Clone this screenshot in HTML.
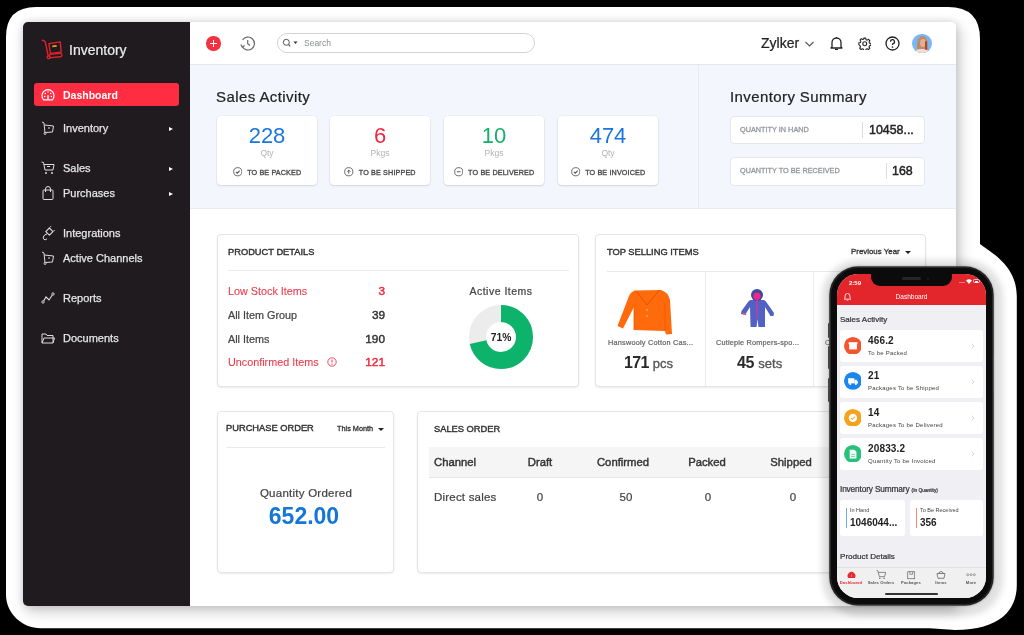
<!DOCTYPE html>
<html><head><meta charset="utf-8">
<style>
*{box-sizing:border-box;margin:0;padding:0}
html,body{width:1024px;height:635px;overflow:hidden;background:#000}
body{position:relative;font-family:"Liberation Sans",sans-serif;color:#333;-webkit-font-smoothing:antialiased}
.t,.lbl{will-change:transform}
.m{-webkit-text-stroke:.22px currentColor}
.m2{-webkit-text-stroke:.1px currentColor}
.a{position:absolute}
.t{position:absolute;white-space:nowrap;line-height:1}
#outline{position:absolute;left:0;top:0}
#app{position:absolute;left:23px;top:22px;width:933px;height:584px;background:#fff;border-radius:5px;overflow:hidden;box-shadow:0 0 7px 1px rgba(0,0,0,.09),3px 5px 14px 1px rgba(0,0,0,.2)}
#side{position:absolute;left:0;top:0;width:167px;height:584px;background:#1f1b1f}
.si{position:absolute;left:0;width:167px;height:20px;color:#e6e6e6;font-size:11px}
.si .lbl{position:absolute;left:40px;top:5.3px;line-height:1;-webkit-text-stroke:.25px currentColor}
.si .arr{position:absolute;left:145.5px;top:8.5px;width:0;height:0;border-left:4.2px solid #fff;border-top:2.6px solid transparent;border-bottom:2.6px solid transparent}
.si svg{position:absolute;left:18px;top:3px}
</style></head><body>
<svg id="outline" width="1024" height="635">
<path d="M36 7 H948 Q980 7 980 39 V244 C988 251 1016.8 264 1016.8 296 V585 C1016.8 610 1000 630 955 630 L930 628.3 H41 C22 628.3 6 613 6 595 V37 Q6 7 36 7 Z" fill="#fff"/>
</svg>
<div id="app">
  <div id="side">
    <!-- logo -->
    <svg class="a" style="left:15px;top:14px" width="28" height="26" viewBox="0 0 28 26">
      <path d="M4.3 4.3 Q6.6 4.4 7.3 6.2 L10.2 19.8" fill="none" stroke="#e4202a" stroke-width="1.4" stroke-linecap="round"/>
      <circle cx="10.6" cy="21.3" r="1.5" fill="none" stroke="#e4202a" stroke-width="1.3"/>
      <path d="M11 7.6 L22.2 5.9 L23.2 16.1 L12.3 17.4 Z" fill="none" stroke="#e4202a" stroke-width="1.4" stroke-linejoin="round"/>
      <rect x="11.2" y="17.8" width="12.8" height="3.4" rx="1.7" fill="none" stroke="#e4202a" stroke-width="1.3" transform="rotate(-6 18 19.5)"/>
      <rect x="14.3" y="9.2" width="4.4" height="1.7" fill="#eea21a" transform="rotate(-6 16.5 10)"/>
    </svg>
    <div class="t m" style="left:46px;top:21px;font-size:14px;color:#ececec">Inventory</div>
    <div class="a" style="left:11px;top:61px;width:145px;height:23px;background:#fe2d42;border-radius:3px"></div>
    <svg class="a" style="left:18px;top:66.5px" width="14" height="12" viewBox="0 0 14 12"><path d="M2.6 10.8 A6 6 0 1 1 11.4 10.8 Z" fill="none" stroke="#fff" stroke-width="1.2" stroke-linejoin="round"/><path d="M7 10.5 V6.2" stroke="#fff" stroke-width="1.3"/><circle cx="7" cy="3.1" r=".75" fill="#fff"/><circle cx="4.3" cy="4.6" r=".75" fill="#fff"/><circle cx="9.7" cy="4.6" r=".75" fill="#fff"/><circle cx="3.6" cy="7.4" r=".75" fill="#fff"/><circle cx="10.4" cy="7.4" r=".75" fill="#fff"/></svg>
    <div class="t" style="left:40px;top:68px;font-size:10.5px;font-weight:bold;color:#fff">Dashboard</div>

    <div class="si" style="top:96px"><svg width="14" height="14" viewBox="0 0 14 14"><path d="M1 1 L3 2 L4 12" fill="none" stroke="#ddd" stroke-width="1"/><path d="M3.5 4 L12.5 5 L11.5 11 L4.5 11.5" fill="none" stroke="#ddd" stroke-width="1"/><circle cx="4" cy="12.5" r="1" fill="none" stroke="#ddd" stroke-width=".9"/><path d="M7 7 L9 7" stroke="#ddd"/></svg><div class="lbl">Inventory</div><div class="arr"></div></div>
    <div class="si" style="top:136px"><svg width="14" height="14" viewBox="0 0 14 14"><path d="M.5 1 L2.5 1.5 L4 9 L12 9 L13 3.5 L3 3.5" fill="none" stroke="#ddd" stroke-width="1"/><path d="M6 5.5 L9 5.5" stroke="#ddd"/><circle cx="5" cy="12" r="1" fill="#ddd"/><circle cx="11" cy="12" r="1" fill="#ddd"/></svg><div class="lbl">Sales</div><div class="arr"></div></div>
    <div class="si" style="top:161px"><svg width="14" height="14" viewBox="0 0 14 14"><rect x="2" y="4" width="10" height="9.5" rx=".8" fill="none" stroke="#ddd" stroke-width="1"/><path d="M4.5 6 V3 A2.5 2.5 0 0 1 9.5 3 V6" fill="none" stroke="#ddd" stroke-width="1"/></svg><div class="lbl">Purchases</div><div class="arr"></div></div>
    <div class="si" style="top:201px"><svg width="14" height="16" viewBox="0 0 14 16"><path d="M4.8 5.6 L8.4 2 L12 5.6 L8.4 9.2 Z" fill="none" stroke="#ddd" stroke-width="1.1" stroke-linejoin="round"/><path d="M8.6 1.6 L10 .2 M12.3 5.4 L13.7 4" stroke="#ddd" stroke-width="1"/><path d="M6.2 7.8 Q3 8.6 2.3 11 Q1.8 13.3 4 13.8 Q5.8 14 5.6 12.6" fill="none" stroke="#ddd" stroke-width="1"/></svg><div class="lbl">Integrations</div></div>
    <div class="si" style="top:226px"><svg width="14" height="14" viewBox="0 0 14 14"><path d="M1 1 L3 2 L4 12" fill="none" stroke="#ddd" stroke-width="1"/><path d="M3.5 4 L12.5 5 L11.5 11 L4.5 11.5" fill="none" stroke="#ddd" stroke-width="1"/><circle cx="4" cy="12.5" r="1" fill="none" stroke="#ddd" stroke-width=".9"/><path d="M7 7 L9 7" stroke="#ddd"/></svg><div class="lbl">Active Channels</div></div>
    <div class="si" style="top:266px"><svg width="14" height="14" viewBox="0 0 14 14"><path d="M2 11 L5 6 L8 9 L12 3" fill="none" stroke="#ddd" stroke-width="1.1"/><circle cx="2" cy="11" r="1.2" fill="#1f1b1f" stroke="#ddd" stroke-width=".9"/><circle cx="12" cy="3" r="1.2" fill="#1f1b1f" stroke="#ddd" stroke-width=".9"/></svg><div class="lbl">Reports</div></div>
    <div class="si" style="top:306px"><svg width="14" height="14" viewBox="0 0 14 14"><path d="M1 3 H5 L6 4.5 H12 V12 H1 Z" fill="none" stroke="#ddd" stroke-width="1"/><path d="M1 12 L3 7 H13.5 L12 12" fill="none" stroke="#ddd" stroke-width="1"/></svg><div class="lbl">Documents</div></div>
  </div>

  <!-- header: app coords = page - (23,22) -->
  <div class="a" style="left:167px;top:0;width:766px;height:43px;background:#fff;border-bottom:1px solid #e4e6ea"></div>
  <div class="a" style="left:183px;top:14px;width:14.5px;height:14.5px;border-radius:50%;background:#f5313f"></div>
  <div class="a" style="left:186.8px;top:20.75px;width:7px;height:1.1px;background:#fff"></div>
  <div class="a" style="left:189.75px;top:17.8px;width:1.1px;height:7px;background:#fff"></div>
  <svg class="a" style="left:216px;top:13px" width="17" height="17" viewBox="0 0 17 17"><path d="M3.2 11.5 A6.5 6.5 0 1 0 3.5 5" fill="none" stroke="#666" stroke-width="1.15"/><path d="M1.8 9.5 L3.3 12.2 L5.6 10.5" fill="none" stroke="#666" stroke-width="1.15"/><path d="M8.7 5 V8.7 L11 10.5" fill="none" stroke="#666" stroke-width="1.15"/></svg>
  <div class="a" style="left:254px;top:11px;width:258px;height:20px;border:1px solid #cfd2d6;border-radius:10px;background:#fff"></div>
  <svg class="a" style="left:259px;top:16px" width="20" height="10" viewBox="0 0 20 10"><circle cx="4.3" cy="4.3" r="3" fill="none" stroke="#555" stroke-width="1"/><path d="M6.5 6.5 L8.3 8.3" stroke="#555" stroke-width="1.1"/><path d="M11.5 3.5 L15.5 3.5 L13.5 6 Z" fill="#333"/></svg>
  <div class="t" style="left:281px;top:17px;font-size:8.5px;color:#8a8d93">Search</div>
  <div class="t m" style="left:738px;top:14px;font-size:14px;color:#222">Zylker</div>
  <svg class="a" style="left:781px;top:18px" width="11" height="8" viewBox="0 0 11 8"><path d="M1.5 2 L5.5 6 L9.5 2" fill="none" stroke="#555" stroke-width="1.1"/></svg>
  <svg class="a" style="left:806px;top:14px" width="15" height="15" viewBox="0 0 15 15"><path d="M3 11 V6.5 A4.5 4.5 0 0 1 12 6.5 V11 L13 12 H2 Z" fill="none" stroke="#222" stroke-width="1.3" stroke-linejoin="round"/><path d="M6 13.3 H9" stroke="#222" stroke-width="1.3"/><path d="M7.5 1 V2" stroke="#222" stroke-width="1.3"/></svg>
  <svg class="a" style="left:834.5px;top:14.5px" width="13.5" height="13.5" viewBox="0 0 24 24"><path d="M12 8.5a3.5 3.5 0 1 0 0 7 3.5 3.5 0 0 0 0-7z" fill="none" stroke="#222" stroke-width="2"/><path d="M10.3 2h3.4l.6 2.7 2 .9 2.4-1.5 2.4 2.4-1.5 2.4.9 2 2.7.6v3.4l-2.7.6-.9 2 1.5 2.4-2.4 2.4-2.4-1.5-2 .9-.6 2.7h-3.4l-.6-2.7-2-.9-2.4 1.5-2.4-2.4 1.5-2.4-.9-2L1.5 13.7v-3.4l2.7-.6.9-2-1.5-2.4 2.4-2.4 2.4 1.5 2-.9z" fill="none" stroke="#222" stroke-width="1.9" stroke-linejoin="round"/></svg>
  <svg class="a" style="left:862px;top:14px" width="15" height="15" viewBox="0 0 15 15"><circle cx="7.5" cy="7.5" r="6.5" fill="none" stroke="#222" stroke-width="1.3"/><path d="M5.5 5.8 A2 2 0 1 1 8 7.6 C7.5 7.8 7.5 8.2 7.5 9" fill="none" stroke="#222" stroke-width="1.3"/><circle cx="7.5" cy="11" r=".85" fill="#222"/></svg>
  <div class="a" style="left:889px;top:11.5px;width:19.5px;height:19.5px;border-radius:50%;background:#78b6f4;overflow:hidden">
    <div class="a" style="left:5px;top:2.5px;width:11px;height:18px;border-radius:48% 48% 30% 30%;background:#c08a68"></div>
    <div class="a" style="left:7.5px;top:5.5px;width:6px;height:8px;border-radius:50%;background:#e2b091"></div>
    <div class="a" style="left:4px;top:15px;width:12px;height:6px;border-radius:40% 40% 0 0;background:#f2dcd6"></div>
    <div class="a" style="left:12.5px;top:7px;width:2px;height:9px;border-radius:1px;background:#9a4a4a"></div>
  </div>

  <!-- sales activity band -->
  <div class="a" style="left:167px;top:43px;width:766px;height:144px;background:#f3f6fc;border-bottom:1px solid #e8ebf0"></div>
  <div class="a" style="left:675px;top:43px;width:1px;height:144px;background:#e8ebf2"></div>
  <div class="t m" style="left:193px;top:67px;font-size:15px;letter-spacing:.42px;color:#222">Sales Activity</div>
  <div class="a" style="left:194px;top:94px;width:100px;height:69px;background:#fff;border-radius:4px;box-shadow:0 1px 2px rgba(0,0,0,.12),0 0 0 .5px rgba(0,0,0,.05)">
    <div class="t" style="left:0;width:100px;text-align:center;top:9px;font-size:22px;color:#1a76de">228</div>
    <div class="t" style="left:0;width:100px;text-align:center;top:32.5px;font-size:8.5px;color:#b0b3b8">Qty</div>
    <div class="t lb" style="left:0;width:100px;text-align:center;top:51px;font-size:7.2px;font-weight:normal;letter-spacing:.14px;-webkit-text-stroke:.32px #484848;color:#484848"><svg width="9.5" height="9.5" viewBox="0 0 10 10" style="vertical-align:-2px;margin-right:5px"><circle cx="5" cy="5" r="4.3" fill="none" stroke="#555" stroke-width=".9"/><path d="M3 5.2 L4.5 6.5 L7 3.8" fill="none" stroke="#555" stroke-width="1.1"/></svg>TO BE PACKED</div>
  </div>
  <div class="a" style="left:307px;top:94px;width:100px;height:69px;background:#fff;border-radius:4px;box-shadow:0 1px 2px rgba(0,0,0,.12),0 0 0 .5px rgba(0,0,0,.05)">
    <div class="t" style="left:0;width:100px;text-align:center;top:9px;font-size:22px;color:#f0293e">6</div>
    <div class="t" style="left:0;width:100px;text-align:center;top:32.5px;font-size:8.5px;color:#b0b3b8">Pkgs</div>
    <div class="t lb" style="left:0;width:100px;text-align:center;top:51px;font-size:7.2px;font-weight:normal;letter-spacing:.14px;-webkit-text-stroke:.32px #484848;color:#484848"><svg width="9.5" height="9.5" viewBox="0 0 10 10" style="vertical-align:-2px;margin-right:5px"><circle cx="5" cy="5" r="4.3" fill="none" stroke="#555" stroke-width=".9"/><path d="M5 7 V3.3 M3.3 5 L5 3.3 L6.7 5" fill="none" stroke="#555" stroke-width="1"/></svg>TO BE SHIPPED</div>
  </div>
  <div class="a" style="left:421px;top:94px;width:100px;height:69px;background:#fff;border-radius:4px;box-shadow:0 1px 2px rgba(0,0,0,.12),0 0 0 .5px rgba(0,0,0,.05)">
    <div class="t" style="left:0;width:100px;text-align:center;top:9px;font-size:22px;color:#16b06a">10</div>
    <div class="t" style="left:0;width:100px;text-align:center;top:32.5px;font-size:8.5px;color:#b0b3b8">Pkgs</div>
    <div class="t lb" style="left:0;width:100px;text-align:center;top:51px;font-size:7.2px;font-weight:normal;letter-spacing:.14px;-webkit-text-stroke:.32px #484848;color:#484848"><svg width="9.5" height="9.5" viewBox="0 0 10 10" style="vertical-align:-2px;margin-right:5px"><circle cx="5" cy="5" r="4.3" fill="none" stroke="#555" stroke-width=".9"/><path d="M3 5 H7" stroke="#555" stroke-width="1"/></svg>TO BE DELIVERED</div>
  </div>
  <div class="a" style="left:535px;top:94px;width:100px;height:69px;background:#fff;border-radius:4px;box-shadow:0 1px 2px rgba(0,0,0,.12),0 0 0 .5px rgba(0,0,0,.05)">
    <div class="t" style="left:0;width:100px;text-align:center;top:9px;font-size:22px;color:#1a76de">474</div>
    <div class="t" style="left:0;width:100px;text-align:center;top:32.5px;font-size:8.5px;color:#b0b3b8">Qty</div>
    <div class="t lb" style="left:0;width:100px;text-align:center;top:51px;font-size:7.2px;font-weight:normal;letter-spacing:.14px;-webkit-text-stroke:.32px #484848;color:#484848"><svg width="9.5" height="9.5" viewBox="0 0 10 10" style="vertical-align:-2px;margin-right:5px"><circle cx="5" cy="5" r="4.3" fill="none" stroke="#555" stroke-width=".9"/><path d="M3 5.2 L4.5 6.5 L7 3.8" fill="none" stroke="#555" stroke-width="1.1"/></svg>TO BE INVOICED</div>
  </div>

  <div class="t m" style="left:707px;top:67px;font-size:15px;letter-spacing:.4px;color:#222">Inventory Summary</div>
  <div class="a" style="left:707px;top:94px;width:195px;height:28px;background:#fff;border:1px solid #e3e6ea;border-radius:4px"></div>
  <div class="t" style="left:716.5px;top:104.3px;font-size:7.3px;-webkit-text-stroke:.3px #94979c;color:#94979c">QUANTITY IN HAND</div>
  <div class="a" style="left:839px;top:100px;width:1px;height:16px;background:#d9dce0"></div>
  <div class="t" style="left:846px;top:101.8px;font-size:12.4px;-webkit-text-stroke:.45px #222;color:#222">10458...</div>
  <div class="a" style="left:707px;top:135px;width:195px;height:29px;background:#fff;border:1px solid #e3e6ea;border-radius:4px"></div>
  <div class="t" style="left:716.5px;top:145.4px;font-size:7.3px;-webkit-text-stroke:.3px #94979c;color:#94979c">QUANTITY TO BE RECEIVED</div>
  <div class="a" style="left:863px;top:141px;width:1px;height:16px;background:#d9dce0"></div>
  <div class="t" style="left:869px;top:142.8px;font-size:12.4px;-webkit-text-stroke:.45px #222;color:#222">168</div>

  <!-- product details: page 217..578, 234..386 -->
  <div class="a" style="left:194px;top:212px;width:362px;height:153px;background:#fff;border:1px solid #e2e4e8;border-radius:4px;box-shadow:0 1px 2px rgba(0,0,0,.08)">
    <div class="t" style="left:10px;top:12.5px;font-size:9.3px;-webkit-text-stroke:.42px #333;color:#333">PRODUCT DETAILS</div>
    <div class="a" style="left:10px;top:35px;width:341px;height:1px;background:#e8eaed"></div>
    <div class="t m2" style="left:10px;top:50.5px;font-size:10.8px;color:#f0394a">Low Stock Items</div>
    <div class="t" style="left:127px;width:40px;text-align:right;top:50.5px;font-size:11.8px;-webkit-text-stroke:.45px #f0293e;color:#f0293e">3</div>
    <div class="t m" style="left:10px;top:74.5px;font-size:10.8px;color:#444">All Item Group</div>
    <div class="t" style="left:127px;width:40px;text-align:right;top:75px;font-size:11.8px;-webkit-text-stroke:.45px #333;color:#333">39</div>
    <div class="t m" style="left:10px;top:98.5px;font-size:10.8px;color:#444">All Items</div>
    <div class="t" style="left:127px;width:40px;text-align:right;top:99px;font-size:11.8px;-webkit-text-stroke:.45px #333;color:#333">190</div>
    <div class="t m2" style="left:10px;top:121.5px;font-size:10.8px;color:#f0394a">Unconfirmed Items</div>
    <svg class="a" style="left:109px;top:122px" width="10" height="10" viewBox="0 0 10 10"><circle cx="5" cy="5" r="4.2" fill="none" stroke="#f0394a" stroke-width=".9"/><path d="M5 2.6 V5.6" stroke="#f0394a" stroke-width="1"/><circle cx="5" cy="7.2" r=".6" fill="#f0394a"/></svg>
    <div class="t" style="left:127px;width:40px;text-align:right;top:122px;font-size:11.8px;-webkit-text-stroke:.45px #f0293e;color:#f0293e">121</div>
    <div class="t m" style="left:233px;width:100px;text-align:center;top:50.5px;font-size:10.5px;letter-spacing:.5px;color:#444">Active Items</div>
    <svg class="a" style="left:250.2px;top:69px" width="66" height="66" viewBox="0 0 66 66">
      <circle cx="33" cy="33" r="23.5" fill="none" stroke="#ececec" stroke-width="17"/>
      <circle cx="33" cy="33" r="23.5" fill="none" stroke="#0db36a" stroke-width="17" stroke-dasharray="104.8 200" transform="rotate(-90 33 33)"/>
    </svg>
    <div class="t" style="left:250.2px;width:66px;text-align:center;top:98px;font-size:10.3px;font-weight:bold;color:#222">71%</div>
  </div>

  <!-- top selling: page 595..925, 234..386 -->
  <div class="a" style="left:572px;top:212px;width:331px;height:153px;background:#fff;border:1px solid #e2e4e8;border-radius:4px;box-shadow:0 1px 2px rgba(0,0,0,.08);overflow:hidden">
    <div class="t" style="left:11.3px;top:12.5px;font-size:9.3px;-webkit-text-stroke:.42px #333;color:#333">TOP SELLING ITEMS</div>
    <div class="t" style="left:254.8px;top:13px;font-size:7.9px;-webkit-text-stroke:.32px #333;color:#333">Previous Year</div>
    <div class="a" style="left:309.4px;top:16px;width:0;height:0;border-top:3.5px solid #222;border-left:3.2px solid transparent;border-right:3.2px solid transparent"></div>
    <div class="a" style="left:11px;top:35.5px;width:318px;height:1px;background:#e8eaed"></div>
    <div class="a" style="left:108.5px;top:36.5px;width:1px;height:115px;background:#e8eaed"></div>
    <div class="a" style="left:216.8px;top:36.5px;width:1px;height:115px;background:#e8eaed"></div>
    <svg class="a" style="left:21px;top:54px" width="56" height="47" viewBox="0 0 56 47">
      <path d="M17.5 1.5 L44 1 Q51 3 53 11 L55 45 L49 45.5 L48 42 L17 41 L17 18 L6 39.5 L0.5 37 L12 7 Q14 3 17.5 1.5 Z" fill="#ff6a0c"/>
      <path d="M19 2 L30 16 L42 1.5" fill="none" stroke="#e25400" stroke-width="1"/>
      <path d="M17 18 L17 41 M48 14 L48 42" stroke="#e85a00" stroke-width=".8"/>
      <circle cx="30" cy="21" r=".8" fill="#ffd0a0"/><circle cx="30" cy="27" r=".8" fill="#ffd0a0"/>
    </svg>
    <div class="t m" style="left:11.6px;top:103.5px;font-size:7.3px;letter-spacing:.22px;color:#666">Hanswooly Cotton Cas...</div>
    <div class="t" style="left:28px;top:120px;font-size:16px;letter-spacing:-.6px;font-weight:bold;color:#2a2a2a">171 <span style="font-size:13px;letter-spacing:0;font-weight:normal;color:#555;-webkit-text-stroke:.35px #555">pcs</span></div>
    <svg class="a" style="left:144px;top:54px" width="36" height="40" viewBox="0 0 36 40">
      <path d="M10.5 11 L24 11 Q26 12 27 14 L34 24 L33.5 27 L30.5 27 L25 18 L25 38 L18.5 38 L17.5 30 L16.5 38 L10.5 38 L10 18 L5 26 L1 25 L1.5 22 L8 13 Q9 11.5 10.5 11 Z" fill="#5262c4"/>
      <ellipse cx="17" cy="6" rx="6" ry="6" fill="#3e4a9c"/>
      <ellipse cx="17" cy="7.2" rx="3.6" ry="3.6" fill="#f2258c"/>
      <path d="M17 10 V29" stroke="#e8318f" stroke-width="1.2"/>
      <path d="M3 24 L6 26" stroke="#ff5a6a" stroke-width="1.5"/>
    </svg>
    <div class="t m" style="left:120.3px;top:103.5px;font-size:7.3px;letter-spacing:.2px;color:#666">Cutiepie Rompers-spo...</div>
    <div class="t" style="left:140.5px;top:120px;font-size:16px;letter-spacing:-.3px;font-weight:bold;color:#2a2a2a">45 <span style="font-size:13px;letter-spacing:0;font-weight:normal;color:#555;-webkit-text-stroke:.35px #555">sets</span></div>
    <div class="t" style="left:229.4px;top:103.5px;font-size:7.3px;color:#555">C</div>
  </div>

  <!-- purchase order: page 217..394, 411..573 -->
  <div class="a" style="left:194px;top:388.5px;width:177px;height:162.5px;background:#fff;border:1px solid #e2e4e8;border-radius:4px;box-shadow:0 1px 2px rgba(0,0,0,.08)">
    <div class="t" style="left:8px;top:12.5px;font-size:9.3px;-webkit-text-stroke:.42px #333;color:#333">PURCHASE ORDER</div>
    <div class="t" style="left:119px;top:13px;font-size:7.3px;-webkit-text-stroke:.3px #333;color:#333">This Month</div>
    <div class="a" style="left:159.5px;top:16px;width:0;height:0;border-top:3.5px solid #222;border-left:3.2px solid transparent;border-right:3.2px solid transparent"></div>
    <div class="a" style="left:7.5px;top:35.5px;width:159px;height:1px;background:#e8eaed"></div>
    <div class="t m" style="left:0;width:176px;text-align:center;top:76.5px;font-size:11.5px;letter-spacing:.25px;color:#444">Quantity Ordered</div>
    <div class="t" style="left:-2px;width:176px;text-align:center;top:93.5px;font-size:23px;font-weight:bold;color:#1576d8">652.00</div>
  </div>

  <!-- sales order: page 417.., 411..573 -->
  <div class="a" style="left:394px;top:388.5px;width:530px;height:162.5px;background:#fff;border:1px solid #e2e4e8;border-radius:4px;box-shadow:0 1px 2px rgba(0,0,0,.08)">
    <div class="t" style="left:16px;top:13px;font-size:9.3px;-webkit-text-stroke:.42px #333;color:#333">SALES ORDER</div>
    <div class="a" style="left:11px;top:35.5px;width:510px;height:30.5px;background:#f5f5f6;border-bottom:1px solid #e6e6e8"></div>
    <div class="t" style="left:16px;top:45.5px;font-size:11.3px;-webkit-text-stroke:.42px #333;color:#333">Channel</div>
    <div class="t" style="left:91.8px;width:60px;text-align:center;top:45.5px;font-size:11.3px;-webkit-text-stroke:.42px #333;color:#333">Draft</div>
    <div class="t" style="left:165px;width:80px;text-align:center;top:45.5px;font-size:11.3px;-webkit-text-stroke:.42px #333;color:#333">Confirmed</div>
    <div class="t" style="left:259px;width:60px;text-align:center;top:45.5px;font-size:11.3px;-webkit-text-stroke:.42px #333;color:#333">Packed</div>
    <div class="t" style="left:342.7px;width:60px;text-align:center;top:45.5px;font-size:11.3px;-webkit-text-stroke:.42px #333;color:#333">Shipped</div>
    <div class="t m" style="left:16px;top:80.5px;font-size:11.5px;letter-spacing:.2px;color:#444">Direct sales</div>
    <div class="t m" style="left:91.8px;width:60px;text-align:center;top:80.5px;font-size:11.5px;color:#444">0</div>
    <div class="t m" style="left:178.4px;width:60px;text-align:center;top:80.5px;font-size:11.5px;color:#444">50</div>
    <div class="t m" style="left:260.3px;width:60px;text-align:center;top:80.5px;font-size:11.5px;color:#444">0</div>
    <div class="t m" style="left:345.2px;width:60px;text-align:center;top:80.5px;font-size:11.5px;color:#444">0</div>
  </div>
</div>
<!-- phone -->
<div class="a" style="left:830px;top:267px;width:163px;height:338px;background:#0b0b0c;border-radius:28px;box-shadow:0 0 0 .8px #2e2e2e,0 0 2px 2px rgba(0,0,0,.1),1px 2px 6px 9px rgba(0,0,0,.12),inset 0 0 0 1px #2a2a2a"></div>
<div class="a" style="left:828px;top:323px;width:1.5px;height:15px;background:#444;border-radius:1px"></div>
<div class="a" style="left:828px;top:346px;width:1.5px;height:23px;background:#444;border-radius:1px"></div>
<div class="a" style="left:828px;top:378px;width:1.5px;height:24px;background:#444;border-radius:1px"></div>
<div class="a" style="left:992.5px;top:354px;width:1.5px;height:38px;background:#555;border-radius:1px"></div>
<div id="scr" class="a" style="left:837px;top:274px;width:149px;height:324px;background:#efeff4;border-radius:21px;overflow:hidden">
  <div class="a" style="left:0;top:0;width:149px;height:31px;background:#e3262b"></div>
  <div class="a" style="left:34px;top:-2px;width:81px;height:14px;background:#0b0b0c;border-radius:0 0 9px 9px"></div>
  <div class="a" style="left:65px;top:3.3px;width:18.5px;height:3px;background:#262628;border-radius:1.5px"></div>
  <div class="a" style="left:89.5px;top:3.6px;width:2.5px;height:2.5px;background:#1c1c30;border-radius:50%"></div>
  <div class="t" style="left:12px;top:5.5px;font-size:6px;font-weight:bold;color:#fff">2:59</div>
  <div class="a" style="left:122px;top:8px;width:6px;height:1px;background:#ef7b7b"></div>
  <svg class="a" style="left:129px;top:5px" width="6" height="5" viewBox="0 0 6 5"><path d="M0 1.5 Q3 -1 6 1.5 L3 5 Z" fill="#fff"/></svg>
  <div class="a" style="left:136px;top:5.3px;width:7px;height:4px;border:.6px solid rgba(255,255,255,.7);border-radius:1.5px"><div class="a" style="left:.5px;top:.5px;width:3.5px;height:1.8px;background:#fff;border-radius:.5px"></div></div>
  <svg class="a" style="left:6px;top:18px" width="9" height="9" viewBox="0 0 9 9"><path d="M2 6.5 V4 A2.5 2.5 0 0 1 7 4 V6.5 L7.8 7.2 H1.2 Z" fill="none" stroke="#fff" stroke-width=".8"/><path d="M3.7 8.2 H5.3" stroke="#fff" stroke-width=".7"/></svg>
  <div class="t" style="left:0;width:149px;text-align:center;top:20px;font-size:6.5px;color:#fff">Dashboard</div>
  <div class="t m" style="left:3px;top:41.5px;font-size:8px;color:#333">Sales Activity</div>
  <div class="a" style="left:3px;top:56px;width:143px;height:32px;background:#fff;border-radius:3px">
    <svg class="a" style="left:3.5px;top:6.5px" width="17.8" height="17.8" viewBox="0 0 17.2 17.2"><circle cx="8.6" cy="8.6" r="8.6" fill="#f4552e"/><rect x="5" y="6" width="7.5" height="6" fill="#fff"/><rect x="4.5" y="5" width="8.5" height="2" fill="#fff"/></svg>
    <div class="t" style="left:27.6px;top:5.8px;font-size:10px;letter-spacing:.15px;font-weight:bold;color:#1e1e1e">466.2</div>
    <div class="t" style="left:27.6px;top:19.6px;font-size:6px;color:#444;letter-spacing:.22px">To be Packed</div>
    <svg class="a" style="left:131px;top:13px" width="4" height="6" viewBox="0 0 4 6"><path d="M.7 .7 L3 3 L.7 5.3" fill="none" stroke="#c4c4c8" stroke-width=".7"/></svg>
  </div>
  <div class="a" style="left:3px;top:91.5px;width:143px;height:32px;background:#fff;border-radius:3px">
    <svg class="a" style="left:3.5px;top:6.5px" width="17.8" height="17.8" viewBox="0 0 17.2 17.2"><circle cx="8.6" cy="8.6" r="8.6" fill="#1b86f0"/><rect x="4" y="6" width="6" height="5" fill="#fff"/><path d="M10 7.5 H12 L13.5 9.5 V11 H10 Z" fill="#fff"/><circle cx="6" cy="11.5" r="1" fill="#fff"/><circle cx="11.5" cy="11.5" r="1" fill="#fff"/></svg>
    <div class="t" style="left:27.6px;top:5.8px;font-size:10px;letter-spacing:.15px;font-weight:bold;color:#1e1e1e">21</div>
    <div class="t" style="left:27.6px;top:19.6px;font-size:6px;color:#444;letter-spacing:.22px">Packages To be Shipped</div>
    <svg class="a" style="left:131px;top:13px" width="4" height="6" viewBox="0 0 4 6"><path d="M.7 .7 L3 3 L.7 5.3" fill="none" stroke="#c4c4c8" stroke-width=".7"/></svg>
  </div>
  <div class="a" style="left:3px;top:128px;width:143px;height:32px;background:#fff;border-radius:3px">
    <svg class="a" style="left:3.5px;top:6.5px" width="17.8" height="17.8" viewBox="0 0 17.2 17.2"><circle cx="8.6" cy="8.6" r="8.6" fill="#f6a21e"/><circle cx="8.6" cy="8.6" r="4" fill="#fff"/><path d="M6.8 8.7 L8.2 10 L10.5 7.5" fill="none" stroke="#f6a21e" stroke-width="1"/></svg>
    <div class="t" style="left:27.6px;top:5.8px;font-size:10px;letter-spacing:.15px;font-weight:bold;color:#1e1e1e">14</div>
    <div class="t" style="left:27.6px;top:19.6px;font-size:6px;color:#444;letter-spacing:.22px">Packages To be Delivered</div>
    <svg class="a" style="left:131px;top:13px" width="4" height="6" viewBox="0 0 4 6"><path d="M.7 .7 L3 3 L.7 5.3" fill="none" stroke="#c4c4c8" stroke-width=".7"/></svg>
  </div>
  <div class="a" style="left:3px;top:164px;width:143px;height:32px;background:#fff;border-radius:3px">
    <svg class="a" style="left:3.5px;top:6.5px" width="17.8" height="17.8" viewBox="0 0 17.2 17.2"><circle cx="8.6" cy="8.6" r="8.6" fill="#27c27a"/><path d="M5.5 4.5 H10 L12 6.5 V13 H5.5 Z" fill="#fff"/><path d="M7 9 H10.5 M7 11 H10.5" stroke="#27c27a" stroke-width=".7"/></svg>
    <div class="t" style="left:27.6px;top:5.8px;font-size:10px;letter-spacing:.15px;font-weight:bold;color:#1e1e1e">20833.2</div>
    <div class="t" style="left:27.6px;top:19.6px;font-size:6px;color:#444;letter-spacing:.22px">Quantity To be Invoiced</div>
    <svg class="a" style="left:131px;top:13px" width="4" height="6" viewBox="0 0 4 6"><path d="M.7 .7 L3 3 L.7 5.3" fill="none" stroke="#c4c4c8" stroke-width=".7"/></svg>
  </div>

  <div class="t m" style="left:3px;top:210.5px;font-size:8.3px;color:#333;letter-spacing:-.15px">Inventory Summary <span style="font-size:4.8px;letter-spacing:0">(In Quantity)</span></div>
  <div class="a" style="left:3px;top:226px;width:65px;height:35.5px;background:#fff;border-radius:3px">
    <div class="a" style="left:5.5px;top:8px;width:1.3px;height:20px;background:#6aaaf2"></div>
    <div class="t" style="left:10px;top:8px;font-size:5.5px;color:#444">In Hand</div>
    <div class="t" style="left:10px;top:18px;font-size:10px;font-weight:bold;color:#1e1e1e">1046044...</div>
  </div>
  <div class="a" style="left:73px;top:226px;width:72.5px;height:35.5px;background:#fff;border-radius:3px">
    <div class="a" style="left:5.5px;top:8px;width:1.3px;height:20px;background:#f28a6e"></div>
    <div class="t" style="left:10px;top:8px;font-size:5.5px;color:#444">To Be Received</div>
    <div class="t" style="left:10px;top:18px;font-size:10px;font-weight:bold;color:#1e1e1e">356</div>
  </div>
  <div class="t m" style="left:3px;top:278.5px;font-size:8.1px;color:#333">Product Details</div>
  <div class="a" style="left:0;top:293.2px;width:149px;height:31px;background:#f0f0f1;border-top:.5px solid #e0e0e3"></div>
  <svg class="a" style="left:9.8px;top:296.8px" width="9" height="8" viewBox="0 0 9 8"><path d="M1.2 7 A3.9 3.9 0 1 1 7.8 7 Z" fill="#e82a2e"/><path d="M4.5 3.5 V6" stroke="#f7a0a0" stroke-width=".6"/></svg>
  <div class="t" style="left:-0.80px;width:30px;text-align:center;top:307.2px;font-size:4.1px;letter-spacing:.12px;font-weight:bold;color:#e82a2e">Dashboard</div>
  <svg class="a" style="left:38.8px;top:296px" width="10.5" height="9.5" viewBox="0 0 11 10"><path d="M.5 .5 L2 1 L3.5 7 H9 L10.2 2.5 H2.5" fill="none" stroke="#555" stroke-width=".7"/><circle cx="4" cy="8.7" r=".7" fill="#555"/><circle cx="8.5" cy="8.7" r=".7" fill="#555"/></svg>
  <div class="t" style="left:29.05px;width:30px;text-align:center;top:307.2px;font-size:4.1px;letter-spacing:.12px;font-weight:bold;color:#555">Sales Orders</div>
  <svg class="a" style="left:69.5px;top:297px" width="8.5" height="8.5" viewBox="0 0 9 9"><rect x=".8" y=".8" width="7.4" height="7.4" fill="none" stroke="#555" stroke-width=".7"/><path d="M3 .8 V3.5 H6 V.8" fill="none" stroke="#555" stroke-width=".6"/></svg>
  <div class="t" style="left:58.85px;width:30px;text-align:center;top:307.2px;font-size:4.1px;letter-spacing:.12px;font-weight:bold;color:#555">Packages</div>
  <svg class="a" style="left:98.8px;top:296.3px" width="10" height="9" viewBox="0 0 10 9"><path d="M1 3.5 H9 L8 8.3 H2 Z" fill="none" stroke="#555" stroke-width=".7"/><path d="M3 3.5 A2 2 0 0 1 7 3.5" fill="none" stroke="#555" stroke-width=".7"/></svg>
  <div class="t" style="left:88.60px;width:30px;text-align:center;top:307.2px;font-size:4.1px;letter-spacing:.12px;font-weight:bold;color:#555">Items</div>
  <svg class="a" style="left:128.8px;top:299.2px" width="10" height="3.4" viewBox="0 0 12 4"><circle cx="2" cy="2" r="1.2" fill="none" stroke="#555" stroke-width=".6"/><circle cx="6" cy="2" r="1.2" fill="none" stroke="#555" stroke-width=".6"/><circle cx="10" cy="2" r="1.2" fill="none" stroke="#555" stroke-width=".6"/></svg>
  <div class="t" style="left:118.65px;width:30px;text-align:center;top:307.2px;font-size:4.1px;letter-spacing:.12px;font-weight:bold;color:#555">More</div>
  <div class="a" style="left:47.7px;top:319px;width:53px;height:1.6px;background:#333;border-radius:1px"></div>
</div>

</body></html>
